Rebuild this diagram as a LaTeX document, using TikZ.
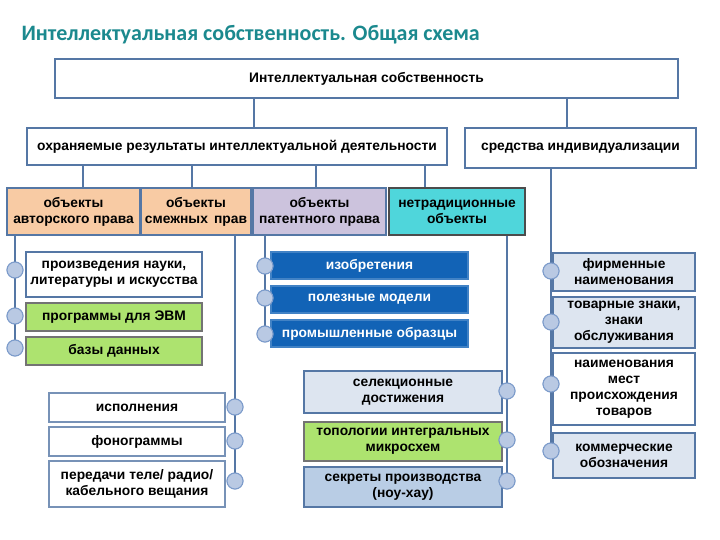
\documentclass[tikz,border=0pt]{standalone}
\usepackage{fontspec}
\setmainfont{Liberation Sans}
\newfontfamily\titlefont{Carlito}
\usetikzlibrary{positioning}

\definecolor{linecol}{HTML}{5577A5}
\definecolor{dotfill}{HTML}{B9C9E3}
\definecolor{dotline}{HTML}{7D9CCB}
\definecolor{peach}{HTML}{F8CBA4}
\definecolor{lavender}{HTML}{CCC3DD}
\definecolor{cyanbox}{HTML}{4FD6DB}
\definecolor{greenbox}{HTML}{ADE36F}
\definecolor{darkblue}{HTML}{1263B6}
\definecolor{paleblue}{HTML}{DDE5F0}
\definecolor{midblue}{HTML}{B9CDE5}
\definecolor{titlecol}{HTML}{1B898E}

\tikzset{
  box/.style={draw=linecol, line width=1.6pt, align=center, inner sep=1pt,
    font=\fontsize{13.8}{16}\selectfont\bfseries},
  link/.style={draw=linecol, line width=1.6pt},
  dot/.style={circle, draw=dotline, fill=dotfill, line width=1pt,
    minimum size=16pt, inner sep=0pt}
}

\begin{document}
\begin{tikzpicture}[x=1pt, y=-1pt]
    \useasboundingbox (0,0) rectangle (720,540);

    % Title
    \node[anchor=west, text=titlecol, font=\titlefont\fontsize{22}{24}\selectfont\bfseries]
        (title) at (18,35) {Интеллектуальная собственность. Общая схема};

    % Top level
    \node[box, minimum width=623pt, minimum height=39pt] (top) at (366.5,78.5)
        {Интеллектуальная собственность};

    % Second level
    \node[box, minimum width=420pt, minimum height=37pt] (res) at (237,146.5)
        {охраняемые результаты интеллектуальной деятельности};
    \node[box, minimum width=231pt, minimum height=40pt] (ind) at (580.5,148)
        {средства индивидуализации};

    % Third level
    \node[box, fill=peach, minimum width=133pt, minimum height=47pt] (avt) at (73.5,211.5)
        {объекты\\авторского права};
    \node[box, fill=peach, minimum width=110pt, minimum height=47pt] (sme) at (196,211.5)
        {объекты\\смежных\, прав};
    \node[box, fill=lavender, minimum width=133pt, minimum height=47pt] (pat) at (319.5,211.5)
        {объекты\\патентного права};
    \node[box, fill=cyanbox, draw=black!70, minimum width=136pt, minimum height=47pt] (net) at (457,211.5)
        {нетрадиционные\\объекты};

    % Copyright objects
    \node[box, minimum width=176pt, minimum height=45pt] (nauk) at (114,274.5)
        {произведения науки,\\литературы и искусства};
    \node[box, fill=greenbox, draw=black!55, minimum width=176pt, minimum height=28pt] (evm) at (114,317)
        {программы для ЭВМ};
    \node[box, fill=greenbox, draw=black!55, minimum width=176pt, minimum height=28pt] (bd) at (114,351)
        {базы данных};

    % Related rights
    \node[box, draw=linecol!80, minimum width=176pt, minimum height=29pt] (isp) at (137,407.5)
        {исполнения};
    \node[box, draw=linecol!80, minimum width=176pt, minimum height=29pt] (fon) at (137,441.5)
        {фонограммы};
    \node[box, draw=linecol!80, minimum width=176pt, minimum height=46pt] (per) at (137,484)
        {передачи теле/ радио/\\кабельного вещания};

    % Patent law
    \node[box, fill=darkblue, draw=darkblue!80, text=white, minimum width=197pt, minimum height=27pt] (izo) at (369.5,265.5)
        {изобретения};
    \node[box, fill=darkblue, draw=darkblue!80, text=white, minimum width=197pt, minimum height=27pt] (pol) at (369.5,299.5)
        {полезные модели};
    \node[box, fill=darkblue, draw=darkblue!80, text=white, minimum width=197pt, minimum height=27pt] (prom) at (369.5,333.5)
        {промышленные образцы};

    % Non-traditional objects
    \node[box, fill=paleblue, minimum width=198pt, minimum height=42pt] (sel) at (403,392)
        {селекционные\\достижения};
    \node[box, fill=greenbox, draw=black!55, minimum width=198pt, minimum height=39pt] (topo) at (403,441.5)
        {топологии интегральных\\микросхем};
    \node[box, fill=midblue, minimum width=198pt, minimum height=40pt] (sek) at (403,487)
        {секреты производства\\(ноу-хау)};

    % Means of individualization
    \node[box, fill=paleblue, minimum width=142pt, minimum height=38pt] (fir) at (624,272)
        {фирменные\\наименования};
    \node[box, fill=paleblue, minimum width=142pt, minimum height=51pt] (tov) at (624,322.5)
        {товарные знаки,\\знаки\\обслуживания};
    \node[box, minimum width=142pt, minimum height=72pt] (mest) at (624,389)
        {наименования\\мест\\происхождения\\товаров};
    \node[box, fill=paleblue, minimum width=142pt, minimum height=45pt] (kom) at (624,455.5)
        {коммерческие\\обозначения};

    % Circles on the side lines
    \node[dot] (a1) at (15,270) {};
    \node[dot] (a2) at (15,316) {};
    \node[dot] (a3) at (15,348) {};
    \node[dot] (s1) at (235,407) {};
    \node[dot] (s2) at (235,441) {};
    \node[dot] (s3) at (235,481) {};
    \node[dot] (p1) at (265,266) {};
    \node[dot] (p2) at (265,298) {};
    \node[dot] (p3) at (265,334) {};
    \node[dot] (n1) at (507,391) {};
    \node[dot] (n2) at (507,440) {};
    \node[dot] (n3) at (507,481) {};
    \node[dot] (i1) at (551,271) {};
    \node[dot] (i2) at (551,322) {};
    \node[dot] (i3) at (551,384) {};
    \node[dot] (i4) at (551,451) {};

    % Connectors between levels
    \draw[link] (top.south -| 254,0) -- (res.north -| 254,0);
    \draw[link] (top.south -| 567,0) -- (ind.north -| 567,0);
    \draw[link] (res.south -| 83,0) -- (avt.north -| 83,0);
    \draw[link] (res.south -| 192,0) -- (sme.north -| 192,0);
    \draw[link] (res.south -| 316,0) -- (pat.north -| 316,0);
    \draw[link] (res.south -| 425,0) -- (net.north -| 425,0);

    % Side lines
    \draw[link] (avt.south -| a3) -- (a3.north);
    \draw[link] (sme.south -| s3) -- (s3.north);
    \draw[link] (pat.south -| p3) -- (p3.north);
    \draw[link] (net.south -| n3) -- (n3.north);
    \draw[link] (ind.south -| i4) -- (i4.north);

    % Redraw circles over the lines
    \foreach \d in {a1,a2,a3,s1,s2,s3,p1,p2,p3,n1,n2,n3,i1,i2,i3,i4}
        \draw[draw=dotline, fill=dotfill, line width=1pt] (\d) circle (8pt);
\end{tikzpicture}
\end{document}
